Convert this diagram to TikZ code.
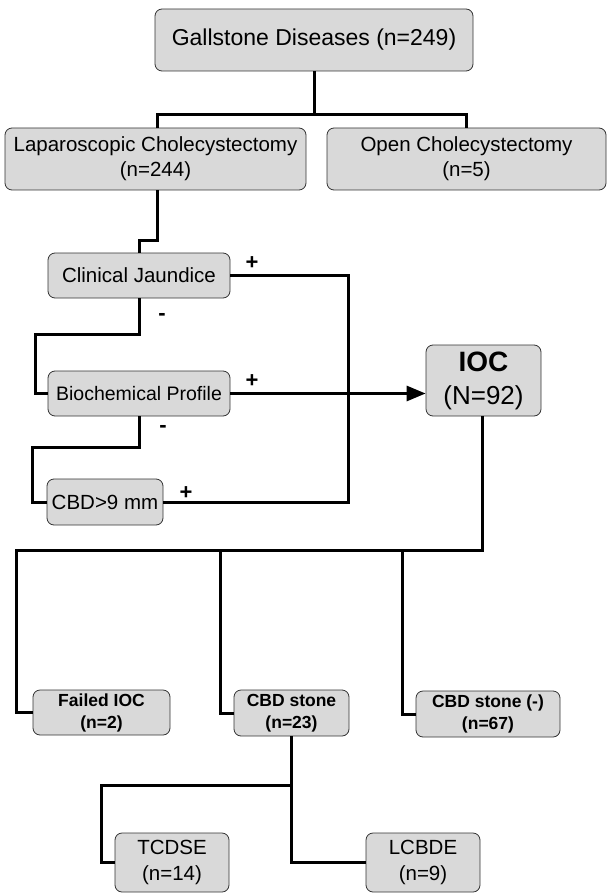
\documentclass[tikz,border=0pt]{standalone}
\usepackage{fontspec}
\setmainfont{Liberation Sans}
\usetikzlibrary{arrows.meta}

\begin{document}
\begin{tikzpicture}[x=1pt,y=-1pt,
  box/.style={draw=black!80,line width=0.8pt,fill=black!15,rounded corners=7pt,align=center,inner sep=0pt},
  link/.style={line width=3pt},
  sign/.style={font=\fontsize{22}{22}\selectfont\bfseries}]
\useasboundingbox (0,0) rectangle (607,893);

% Top level
\node[box,minimum width=318pt,minimum height=62pt,font=\fontsize{23}{27}\selectfont] (gall) at (314,40) {Gallstone Diseases (n=249)};
\node[box,minimum width=301pt,minimum height=62pt,font=\fontsize{20.5}{25}\selectfont] (lap) at (155.5,159) {Laparoscopic Cholecystectomy\\(n=244)};
\node[box,minimum width=279pt,minimum height=62pt,font=\fontsize{20.5}{25}\selectfont] (open) at (466.5,159) {Open Cholecystectomy\\(n=5)};

% Criteria
\node[box,minimum width=182pt,minimum height=45pt,font=\fontsize{20.5}{25}\selectfont] (jaund) at (139,275.5) {Clinical Jaundice};
\node[box,minimum width=182pt,minimum height=45pt,font=\fontsize{19.5}{24}\selectfont] (bioch) at (139,393.5) {Biochemical Profile};
\node[box,minimum width=116pt,minimum height=46pt,font=\fontsize{20.5}{25}\selectfont] (cbd) at (105,502) {CBD>9 mm};

% IOC
\node[box,minimum width=115pt,minimum height=71pt,font=\fontsize{26}{33}\selectfont] (ioc) at (483.5,380.5) {{\fontsize{28}{33}\selectfont\bfseries IOC}\\(N=92)};

% IOC results
\node[box,minimum width=137pt,minimum height=45pt,font=\fontsize{17.5}{22}\selectfont\bfseries] (failed) at (101.5,712.5) {Failed IOC\\(n=2)};
\node[box,minimum width=115pt,minimum height=46pt,font=\fontsize{17.5}{22}\selectfont\bfseries] (stone) at (291.5,713) {CBD stone\\(n=23)};
\node[box,minimum width=144pt,minimum height=46pt,font=\fontsize{17.5}{22}\selectfont\bfseries] (nostone) at (488,714) {CBD stone (-)\\(n=67)};

% Treatment
\node[box,minimum width=114pt,minimum height=59pt,font=\fontsize{20.5}{26}\selectfont] (tcdse) at (172,862.5) {TCDSE\\(n=14)};
\node[box,minimum width=114pt,minimum height=59pt,font=\fontsize{20.5}{26}\selectfont] (lcbde) at (423,862.5) {LCBDE\\(n=9)};

% Connectors
\coordinate (top) at (314,115);
\draw[link] (gall.south) -- (top) -| ([xshift=1.5pt]lap.north);
\draw[link] (top) -| (open.north);
\draw[link] ([xshift=1.5pt]lap.south) -- ++(0,50) -| (jaund.north);

\coordinate (rail) at (348,400);
\draw[link] (jaund.east) -| (rail) |- (cbd.east);
\draw[link] (jaund.south) -- ++(0,36) -| ([xshift=-12pt]bioch.west) -- (bioch.west);
\draw[link] (bioch.south) -- ++(0,31) -| ([xshift=-14pt]cbd.west) -- (cbd.west);
\draw[link,-{Triangle[length=19pt,width=15pt]}] (bioch.east) -- (bioch.east -| ioc.west);

\coordinate (split) at (482,550);
\draw[link] ([xshift=-1.5pt]ioc.south) -- (split) -| ([xshift=-16pt]failed.west) -- (failed.west);
\draw[link] ([xshift=-13pt]stone.west |- split) |- (stone.west);
\draw[link] ([xshift=-13pt]nostone.west |- split) |- (nostone.west);

\draw[link] (stone.south) -- ++(0,49) -| ([xshift=-13pt]tcdse.west) -- (tcdse.west);
\draw[link] (stone.south) |- (lcbde.west);

% Signs
\node[sign] (p1) at (252,263) {+};
\node[sign] (p2) at (252,381) {+};
\node[sign] (p3) at (186,493) {+};
\node[sign] (m1) at (162,317) {-};
\node[sign] (m2) at (163,429) {-};

\end{tikzpicture}
\end{document}
